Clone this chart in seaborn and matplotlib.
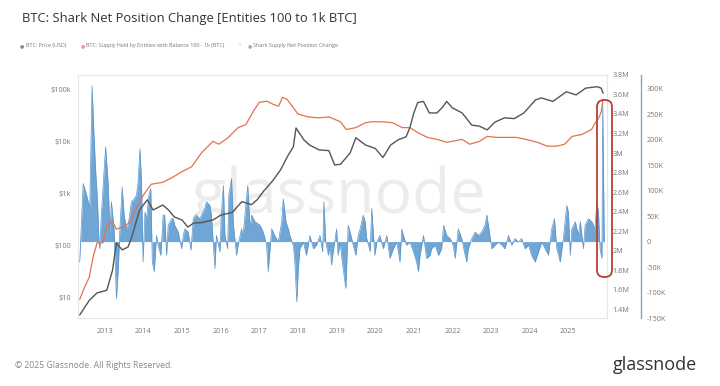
import numpy as np
import pandas as pd
import seaborn as sns
import matplotlib.pyplot as plt
from matplotlib.patches import FancyBboxPatch
from matplotlib.transforms import IdentityTransform

# BTC price (USD), decimal year
price_year = [2012.35, 2012.6, 2012.8, 2013.05, 2013.2, 2013.3, 2013.45, 2013.6, 2013.7, 2013.9,
              2014.1, 2014.25, 2014.5, 2014.65, 2014.8, 2015.0, 2015.15, 2015.3, 2015.5, 2015.8,
              2016.0, 2016.3, 2016.55, 2016.8, 2016.95, 2017.1, 2017.35, 2017.55, 2017.75, 2017.88,
              2017.95, 2018.15, 2018.3, 2018.55, 2018.8, 2018.95, 2019.1, 2019.35, 2019.5, 2019.75,
              2020.0, 2020.2, 2020.4, 2020.6, 2020.8, 2020.9, 2021.0, 2021.1, 2021.25, 2021.4,
              2021.6, 2021.75, 2021.85, 2022.0, 2022.25, 2022.5, 2022.7, 2022.9, 2023.1, 2023.35,
              2023.6, 2023.85, 2024.15, 2024.3, 2024.6, 2024.95, 2025.2, 2025.45, 2025.75, 2025.85,
              2025.9]
price_usd = [4.7, 9, 12.5, 14, 34, 114, 84, 95, 150, 490,
             770, 490, 610, 490, 360, 315, 230, 275, 280, 315,
             390, 440, 710, 620, 780, 1100, 1800, 2900, 5600, 8000,
             18500, 11000, 8700, 7000, 6800, 3600, 3700, 6100, 12000, 8700,
             7500, 5000, 8700, 11000, 12500, 19000, 36000, 57000, 60000, 36000,
             36000, 47000, 60000, 45000, 36000, 21000, 20000, 17000, 24000, 29000,
             28000, 36000, 64000, 70000, 60000, 92000, 80000, 108000, 115000, 108000,
             86000]

# supply held by entities 100 - 1k BTC (millions)
supply_year = [2012.35, 2012.48, 2012.6, 2012.7, 2012.8, 2012.95, 2013.05, 2013.2, 2013.3, 2013.5,
               2013.65, 2013.8, 2014.0, 2014.2, 2014.5, 2014.75, 2015.0, 2015.25, 2015.5, 2015.8,
               2015.95, 2016.2, 2016.45, 2016.65, 2016.85, 2017.0, 2017.2, 2017.35, 2017.5, 2017.6,
               2017.72, 2017.85, 2018.0, 2018.25, 2018.55, 2018.8, 2019.1, 2019.25, 2019.5, 2019.75,
               2019.9, 2020.2, 2020.45, 2020.7, 2020.9, 2021.1, 2021.35, 2021.6, 2021.85, 2022.0,
               2022.25, 2022.45, 2022.7, 2022.9, 2023.15, 2023.4, 2023.65, 2023.9, 2024.2, 2024.45,
               2024.7, 2024.9, 2025.1, 2025.35, 2025.6, 2025.7, 2025.8, 2025.85, 2025.9]
supply_m = [1.50, 1.63, 1.73, 1.94, 2.08, 2.08, 2.25, 2.30, 2.22, 2.25,
            2.29, 2.42, 2.57, 2.68, 2.70, 2.75, 2.81, 2.86, 3.00, 3.12,
            3.09, 3.16, 3.26, 3.29, 3.43, 3.52, 3.53, 3.50, 3.48, 3.57,
            3.55, 3.48, 3.40, 3.37, 3.36, 3.37, 3.32, 3.24, 3.26, 3.31,
            3.32, 3.32, 3.31, 3.26, 3.26, 3.21, 3.16, 3.14, 3.11, 3.12,
            3.14, 3.09, 3.12, 3.17, 3.16, 3.16, 3.16, 3.14, 3.11, 3.07,
            3.07, 3.09, 3.17, 3.19, 3.24, 3.31, 3.37, 3.42, 3.55]

# shark supply net position change (thousand BTC)
net_year = [2012.35, 2012.44, 2012.53, 2012.61, 2012.67, 2012.72, 2012.76, 2012.81, 2012.85, 2012.87,
            2012.91, 2013.02, 2013.09, 2013.13, 2013.17, 2013.24, 2013.30, 2013.35, 2013.39, 2013.45,
            2013.50, 2013.56, 2013.605, 2013.69, 2013.76, 2013.82, 2013.86, 2013.91, 2013.95, 2013.99,
            2014.04, 2014.08, 2014.14, 2014.19, 2014.23, 2014.28, 2014.34, 2014.38, 2014.45, 2014.51,
            2014.55, 2014.60, 2014.64, 2014.73, 2014.77, 2014.81, 2014.90, 2014.99, 2015.03, 2015.07,
            2015.16, 2015.23, 2015.29, 2015.37, 2015.46, 2015.50, 2015.59, 2015.63, 2015.72, 2015.76,
            2015.85, 2015.89, 2015.98, 2016.02, 2016.07, 2016.11, 2016.18, 2016.21, 2016.28, 2016.33,
            2016.41, 2016.45, 2016.54, 2016.58, 2016.63, 2016.70, 2016.76, 2016.80, 2016.89, 2017.02,
            2017.10, 2017.19, 2017.23, 2017.32, 2017.40, 2017.49, 2017.58, 2017.62, 2017.69, 2017.75,
            2017.79, 2017.88, 2017.92, 2017.97, 2018.01, 2018.05, 2018.14, 2018.22, 2018.31, 2018.40,
            2018.48, 2018.57, 2018.64, 2018.67, 2018.72, 2018.79, 2018.83, 2018.87, 2018.90, 2019.00,
            2019.04, 2019.09, 2019.17, 2019.24, 2019.30, 2019.35, 2019.43, 2019.50, 2019.56, 2019.61,
            2019.69, 2019.74, 2019.78, 2019.87, 2019.91, 2019.99, 2020.04, 2020.12, 2020.21, 2020.30,
            2020.38, 2020.47, 2020.56, 2020.64, 2020.69, 2020.73, 2020.81, 2020.90, 2020.99, 2021.07,
            2021.12, 2021.16, 2021.25, 2021.33, 2021.42, 2021.46, 2021.55, 2021.64, 2021.72, 2021.77,
            2021.85, 2021.94, 2022.02, 2022.07, 2022.15, 2022.24, 2022.33, 2022.37, 2022.41, 2022.50,
            2022.59, 2022.67, 2022.76, 2022.84, 2022.89, 2022.93, 2023.02, 2023.10, 2023.19, 2023.28,
            2023.36, 2023.45, 2023.535, 2023.62, 2023.71, 2023.79, 2023.88, 2023.97, 2024.05, 2024.14,
            2024.23, 2024.31, 2024.40, 2024.485, 2024.57, 2024.64, 2024.70, 2024.79, 2024.87, 2024.96,
            2025.00, 2025.05, 2025.09, 2025.18, 2025.26, 2025.31, 2025.39, 2025.435, 2025.52, 2025.61,
            2025.69, 2025.74, 2025.78, 2025.82, 2025.87, 2025.89, 2025.93]
net_k = [-40, 114, 91, 65, 306, 208, 143, 78, -1, -14,
         52, 186, 110, 12, 78, 25, -112, -53, 25, 107,
         52, 25, 32, 78, 84, 91, 117, 182, 117, -40,
         58, 45, 91, 104, -40, -59, 12, -7, -27, 52,
         52, -27, 32, 45, 45, 32, 19, -14, 12, 25,
         19, -17, 45, 52, 45, 52, 65, 78, 71, 52,
         -53, 12, -20, 58, 110, 12, -14, 91, 124, 32,
         -27, -7, 25, 12, 52, 110, 25, 52, 39, 32,
         19, -7, -59, 25, 12, -1, 39, 84, 39, 25,
         12, -7, -40, -118, -53, -14, -1, -27, 12, -14,
         -7, 12, -20, 78, -1, -27, -7, -46, -27, 25,
         -27, -1, -53, -92, 32, 19, -7, -27, 12, 25,
         52, 39, 6, -20, 65, -27, -1, 12, -14, 12,
         -33, -14, -1, -40, 25, 12, -7, -1, -20, -40,
         -59, -27, 12, -33, -27, -14, -7, -27, -14, 32,
         12, 6, -7, -33, 25, 6, -27, -40, -14, 6,
         19, 12, 19, 32, 52, 32, -14, -7, -1, -7,
         -14, 12, -7, 6, -1, 6, -14, -7, -27, -40,
         -20, -1, -14, -27, 25, 45, -14, -40, 6, 71,
         58, -27, 25, 39, 12, 39, -14, 32, 45, 39,
         25, 78, 58, -14, -33, 274, -1]

year_ticks = list(range(2013, 2026))
price_ticks = [10, 100, 1000, 10000, 100000]
price_labels = ["$10", "$100", "$1k", "$10k", "$100k"]
supply_ticks = [1.4, 1.6, 1.8, 2.0, 2.2, 2.4, 2.6, 2.8, 3.0, 3.2, 3.4, 3.6, 3.8]
supply_labels = ["1.4M", "1.6M", "1.8M", "2M", "2.2M", "2.4M", "2.6M", "2.8M", "3M",
                 "3.2M", "3.4M", "3.6M", "3.8M"]
net_ticks = [-150, -100, -50, 0, 50, 100, 150, 200, 250, 300]
net_labels = ["-150K", "-100K", "-50K", "0", "50K", "100K", "150K", "200K", "250K", "300K"]

sns.set_style("white")
plt.rcParams["font.family"] = ["Open Sans", "DejaVu Sans"]

price_df = pd.DataFrame({"year": price_year, "price": price_usd})
supply_df = pd.DataFrame({"year": supply_year, "supply": supply_m})
net_df = pd.DataFrame({"year": net_year, "net": net_k})

fig = plt.figure(figsize=(7.2, 3.86), dpi=100)
fig.patch.set_facecolor("white")
ax = fig.add_axes([0.108, 0.176, 0.735, 0.630])
ax2 = ax.twinx()
ax3 = ax.twinx()

# blue net-change area at the back
ax3.set_zorder(1)
ax2.set_zorder(2)
ax.set_zorder(3)
for a in (ax, ax2, ax3):
    a.patch.set_visible(False)

ax3.fill_between(net_df["year"], 0, net_df["net"], color="#6fa6d6", linewidth=0)
sns.lineplot(data=net_df, x="year", y="net", ax=ax3, color="#5b95c8", linewidth=0.5, sort=False)
ax3.set_ylim(-148, 327)
ax3.set_yticks(net_ticks)
ax3.set_yticklabels(net_labels)
ax3.spines["right"].set_position(("outward", 24.5))
ax3.spines["right"].set_color("#7fa7c6")
ax3.spines["right"].set_linewidth(1.0)
for s in ("top", "left", "bottom"):
    ax3.spines[s].set_visible(False)

sns.lineplot(data=supply_df, x="year", y="supply", ax=ax2, color="#e5714c", linewidth=0.9, sort=False)
ax2.set_ylim(1.31, 3.8)
ax2.set_yticks(supply_ticks)
ax2.set_yticklabels(supply_labels)
for s in ax2.spines.values():
    s.set_visible(False)

sns.lineplot(data=price_df, x="year", y="price", ax=ax, color="#555555", linewidth=1.0, sort=False)
ax.set_yscale("log")
ax.set_ylim(4.1, 194000)
ax.set_yticks(price_ticks)
ax.set_yticklabels(price_labels)
ax.minorticks_off()
ax.set_xlim(2012.3, 2026.0)
ax.set_xticks(year_ticks)
ax.set_xticklabels([str(y) for y in year_ticks])
for s in ax.spines.values():
    s.set_color("#e6e6e6")
    s.set_linewidth(0.8)

for a in (ax, ax2, ax3):
    a.set_xlabel("")
    a.set_ylabel("")
    a.grid(False)
    a.tick_params(length=0, labelsize=5.2, labelcolor="#777777")
ax.tick_params(axis="y", pad=5)
ax.tick_params(axis="x", pad=7)
ax2.tick_params(axis="y", pad=4)
ax3.tick_params(axis="y", pad=4)

# watermark
fig.text(0.47, 0.49, "glassnode", fontsize=45, color="#ececec", ha="center", va="center",
         zorder=0.5)

# title, legend, footer
fig.text(0.030, 0.952, "BTC: Shark Net Position Change [Entities 100 to 1k BTC]",
         fontsize=9.4, color="#333333", ha="left", va="center")
legend_items = [(0.028, "#8a8a8a", "BTC: Price (USD)"),
                (0.112, "#ec9c86", "BTC: Supply Held by Entities with Balance 100 - 1k (BTC)"),
                (0.344, "#8ab6dc", "Shark Supply Net Position Change")]
for x0, col, lab in legend_items:
    fig.text(x0, 0.882, "\u25CF", fontsize=3.6, color=col, ha="left", va="center")
    fig.text(x0 + 0.008, 0.882, lab, fontsize=3.9, color="#777777", ha="left", va="center")
fig.text(0.332, 0.884, "-", fontsize=5, color="#888888", ha="left", va="center")

fig.text(0.021, 0.052, "\u00A9 2025 Glassnode. All Rights Reserved.", fontsize=6.2,
         color="#888888", ha="left", va="center")
fig.text(0.968, 0.055, "glassnode", fontsize=13, color="#333333", ha="right", va="center")

# red highlight around the latest spike
hl = FancyBboxPatch((597, 386 - 277), 15, 177, boxstyle="round,pad=0,rounding_size=7",
                    transform=IdentityTransform(), fill=False, edgecolor="#b5402f",
                    linewidth=1.3, zorder=10)
fig.add_artist(hl)

fig.savefig("out.png", dpi=100)
